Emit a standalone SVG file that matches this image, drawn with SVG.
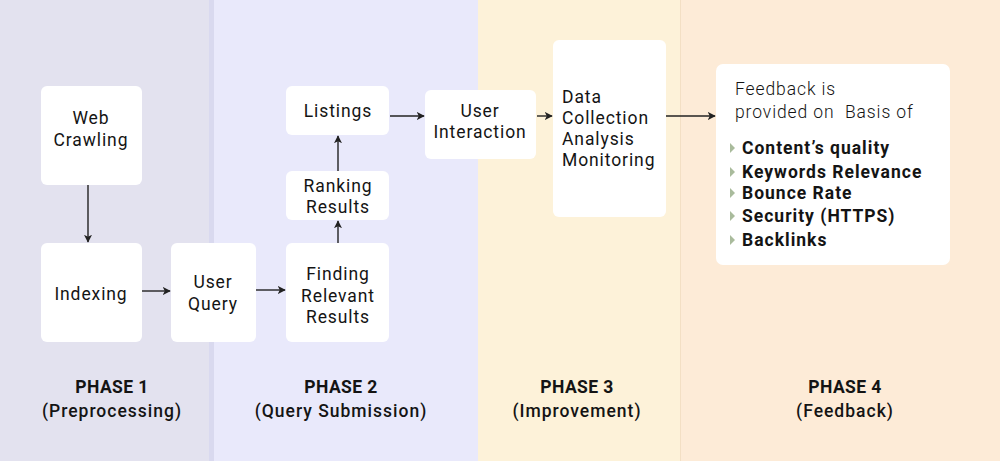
<svg xmlns="http://www.w3.org/2000/svg" width="1000" height="461" viewBox="0 0 1000 461">
<defs>
<marker id="ah" viewBox="0 0 10 10" refX="9" refY="5" markerWidth="8" markerHeight="8" markerUnits="userSpaceOnUse" orient="auto">
<path d="M0,0 L10,5 L0,10 L2.5,5 z" fill="#222"/>
</marker>
<style>
.node{fill:#ffffff;}
.t{font-family:Roboto,"Liberation Sans",sans-serif;font-size:17.5px;font-weight:400;letter-spacing:0.9px;fill:#141414;text-anchor:middle;}
.l{text-anchor:start;}
.light{font-weight:300;letter-spacing:0.9px;}
.b{font-weight:700;font-size:17.5px;letter-spacing:1px;text-anchor:start;}
.ph{font-family:Roboto,"Liberation Sans",sans-serif;font-size:17.5px;font-weight:700;fill:#141414;text-anchor:middle;letter-spacing:0.4px;}
.ph2{font-weight:500;letter-spacing:1px;}
.c{stroke:#222;stroke-width:1.4;fill:none;marker-end:url(#ah);}
.bul{fill:#a9bb9c;}
</style>
</defs>
<g id="background">
<rect x="0" y="0" width="210" height="461" fill="#e3e2ef"/>
<rect x="209" y="0" width="5" height="461" fill="#d9d9ef"/>
<rect x="214" y="0" width="264" height="461" fill="#e9e9fb"/>
<rect x="478" y="0" width="202" height="461" fill="#fdf2d9"/>
<rect x="680" y="0" width="320" height="461" fill="#fdebd7"/>
<rect x="680" y="0" width="1" height="461" fill="#f3dfc4"/>
</g>
<g id="n-web-crawling">
<rect class="node" x="41" y="86" width="101" height="99" rx="6"/>
<text class="t" x="91" y="124">Web</text>
<text class="t" x="91" y="146">Crawling</text>
</g>
<g id="n-indexing">
<rect class="node" x="41" y="243" width="101" height="99" rx="6"/>
<text class="t" x="91" y="300">Indexing</text>
</g>
<g id="n-user-query">
<rect class="node" x="171" y="243" width="85" height="99" rx="6"/>
<text class="t" x="213" y="288">User</text>
<text class="t" x="213" y="310">Query</text>
</g>
<g id="n-finding">
<rect class="node" x="286" y="243" width="103" height="99" rx="6"/>
<text class="t" x="338" y="280">Finding</text>
<text class="t" x="338" y="302">Relevant</text>
<text class="t" x="338" y="323">Results</text>
</g>
<g id="n-ranking">
<rect class="node" x="286" y="171" width="103" height="49" rx="6"/>
<text class="t" x="338" y="192">Ranking</text>
<text class="t" x="338" y="213">Results</text>
</g>
<g id="n-listings">
<rect class="node" x="286" y="86" width="103" height="49" rx="6"/>
<text class="t" x="338" y="117">Listings</text>
</g>
<g id="n-user-interaction">
<rect class="node" x="425" y="90" width="111" height="69" rx="6"/>
<text class="t" x="480" y="117">User</text>
<text class="t" x="480" y="138">Interaction</text>
</g>
<g id="n-data">
<rect class="node" x="553" y="40" width="113" height="177" rx="6"/>
<text class="t l" x="562" y="103">Data</text>
<text class="t l" x="562" y="124">Collection</text>
<text class="t l" x="562" y="145">Analysis</text>
<text class="t l" x="562" y="166">Monitoring</text>
</g>
<g id="n-feedback">
<rect class="node" x="716" y="64" width="234" height="201" rx="7"/>
<text class="t l light" x="735" y="95">Feedback is</text>
<text class="t l light" x="735" y="118" xml:space="preserve">provided on  Basis of</text>
<path class="bul" d="M730,143 L735,148 L730,153 z"/>
<path class="bul" d="M730,167 L735,172 L730,177 z"/>
<path class="bul" d="M730,188 L735,193 L730,198 z"/>
<path class="bul" d="M730,211 L735,216 L730,221 z"/>
<path class="bul" d="M730,235 L735,240 L730,245 z"/>
<text class="t b" x="742" y="154">Content’s quality</text>
<text class="t b" x="742" y="178">Keywords Relevance</text>
<text class="t b" x="742" y="199">Bounce Rate</text>
<text class="t b" x="742" y="222">Security (HTTPS)</text>
<text class="t b" x="742" y="246">Backlinks</text>
</g>
<g id="connectors">
<line class="c" x1="88" y1="185" x2="88" y2="242"/>
<line class="c" x1="142" y1="291" x2="170" y2="291"/>
<line class="c" x1="256" y1="290" x2="285" y2="290"/>
<line class="c" x1="338" y1="243" x2="338" y2="221"/>
<line class="c" x1="338" y1="171" x2="338" y2="136"/>
<line class="c" x1="390" y1="116" x2="424" y2="116"/>
<line class="c" x1="537" y1="116" x2="552" y2="116"/>
<line class="c" x1="666" y1="116" x2="715" y2="116"/>
</g>
<g id="phase-labels">
<text class="ph" x="112" y="393">PHASE 1</text>
<text class="ph ph2" x="112" y="417">(Preprocessing)</text>
<text class="ph" x="341" y="393">PHASE 2</text>
<text class="ph ph2" x="341" y="417">(Query Submission)</text>
<text class="ph" x="577" y="393">PHASE 3</text>
<text class="ph ph2" x="577" y="417">(Improvement)</text>
<text class="ph" x="845" y="393">PHASE 4</text>
<text class="ph ph2" x="845" y="417">(Feedback)</text>
</g>
</svg>
